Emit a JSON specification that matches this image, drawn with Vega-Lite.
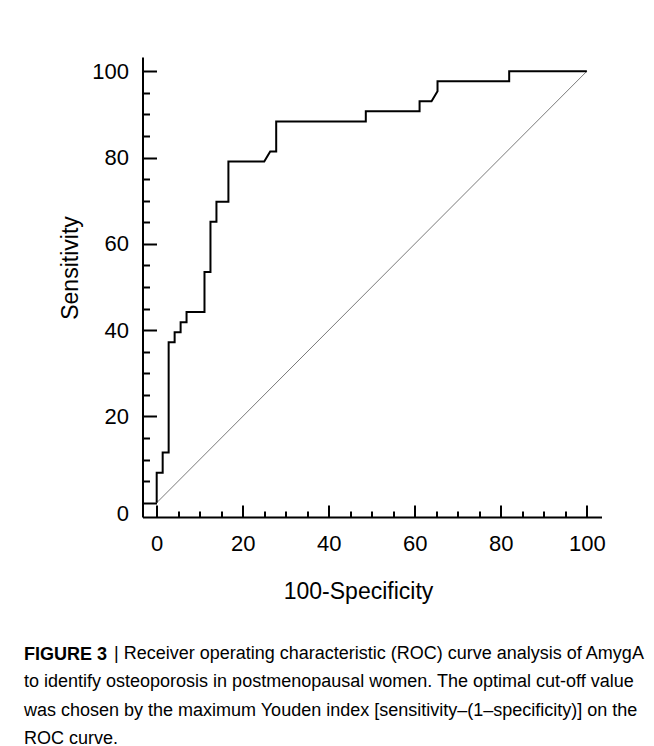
{
  "$schema": "https://vega.github.io/schema/vega-lite/v6.json",
  "width": 459,
  "height": 460,
  "autosize": {"type": "none"},
  "padding": {"left": 142.5, "top": 57, "right": 52.5, "bottom": 229},
  "background": "white",
  "config": {
    "view": {"stroke": null},
    "font": "Liberation Sans",
    "axis": {"grid": false, "labelFont": "Liberation Sans", "titleFont": "Liberation Sans", "labelColor": "black", "titleColor": "black", "tickColor": "black", "domainColor": "black"}
  },
  "title": {
    "text": "FIGURE 3",
    "subtitle": [
      "\u200b\u00a0\u00a0\u00a0\u00a0\u00a0\u00a0\u00a0\u00a0\u00a0\u00a0\u00a0\u00a0\u00a0\u00a0\u00a0\u00a0\u00a0\u00a0| Receiver operating characteristic (ROC) curve analysis of AmygA",
      "to identify osteoporosis in postmenopausal women. The optimal cut-off value",
      "was chosen by the maximum Youden index [sensitivity–(1–specificity)] on the",
      "ROC curve."
    ],
    "orient": "bottom",
    "anchor": "start",
    "frame": "group",
    "dx": -118.5,
    "offset": 43,
    "font": "Liberation Sans",
    "fontSize": 18,
    "fontWeight": "bold",
    "color": "black",
    "lineHeight": 29,
    "subtitleFont": "Liberation Sans",
    "subtitleFontSize": 18,
    "subtitleFontWeight": "normal",
    "subtitleColor": "black",
    "subtitleLineHeight": 28.3,
    "subtitlePadding": -19
  },
  "datasets": {
    "diag": [{"fpr": 0, "tpr": 0}, {"fpr": 100, "tpr": 100}],
    "roc": [
      {"i": 1, "fpr": 0, "tpr": 0},
      {"i": 2, "fpr": 0, "tpr": 6.98},
      {"i": 3, "fpr": 1.39, "tpr": 6.98},
      {"i": 4, "fpr": 1.39, "tpr": 11.63},
      {"i": 5, "fpr": 2.78, "tpr": 11.63},
      {"i": 6, "fpr": 2.78, "tpr": 37.21},
      {"i": 7, "fpr": 4.17, "tpr": 37.21},
      {"i": 8, "fpr": 4.17, "tpr": 39.53},
      {"i": 9, "fpr": 5.56, "tpr": 39.53},
      {"i": 10, "fpr": 5.56, "tpr": 41.86},
      {"i": 11, "fpr": 6.94, "tpr": 41.86},
      {"i": 12, "fpr": 6.94, "tpr": 44.19},
      {"i": 13, "fpr": 11.11, "tpr": 44.19},
      {"i": 14, "fpr": 11.11, "tpr": 53.49},
      {"i": 15, "fpr": 12.5, "tpr": 53.49},
      {"i": 16, "fpr": 12.5, "tpr": 65.12},
      {"i": 17, "fpr": 13.89, "tpr": 65.12},
      {"i": 18, "fpr": 13.89, "tpr": 69.77},
      {"i": 19, "fpr": 16.67, "tpr": 69.77},
      {"i": 20, "fpr": 16.67, "tpr": 79.07},
      {"i": 21, "fpr": 25.0, "tpr": 79.07},
      {"i": 22, "fpr": 26.39, "tpr": 81.4},
      {"i": 23, "fpr": 27.78, "tpr": 81.4},
      {"i": 24, "fpr": 27.78, "tpr": 88.37},
      {"i": 25, "fpr": 48.61, "tpr": 88.37},
      {"i": 26, "fpr": 48.61, "tpr": 90.7},
      {"i": 27, "fpr": 61.11, "tpr": 90.7},
      {"i": 28, "fpr": 61.11, "tpr": 93.02},
      {"i": 29, "fpr": 63.89, "tpr": 93.02},
      {"i": 30, "fpr": 65.28, "tpr": 95.35},
      {"i": 31, "fpr": 65.28, "tpr": 97.67},
      {"i": 32, "fpr": 81.94, "tpr": 97.67},
      {"i": 33, "fpr": 81.94, "tpr": 100},
      {"i": 34, "fpr": 100, "tpr": 100}
    ]
  },
  "layer": [
    {
      "data": {"name": "diag"},
      "mark": {"type": "line", "color": "#7a7a7a", "strokeWidth": 1},
      "encoding": {
        "x": {"field": "fpr", "type": "quantitative", "scale": {"domain": [-3.3, 103.4], "nice": false, "zero": false},
          "axis": {"orient": "bottom", "values": [5, 10, 15, 25, 30, 35, 45, 50, 55, 65, 70, 75, 85, 90, 95], "tickSize": -6, "tickWidth": 2, "labels": false, "domain": false, "title": null, "offset": 0}},
        "y": {"field": "tpr", "type": "quantitative", "scale": {"domain": [-3.3, 103.3], "nice": false, "zero": false},
          "axis": {"orient": "left", "values": [5, 10, 15, 25, 30, 35, 45, 50, 55, 65, 70, 75, 85, 90, 95], "tickSize": -7, "tickWidth": 2, "labels": false, "domain": false, "title": null, "offset": 0}}
      }
    },
    {
      "data": {"name": "roc"},
      "mark": {"type": "line", "color": "black", "strokeWidth": 2},
      "encoding": {
        "order": {"field": "i", "type": "quantitative"},
        "x": {"field": "fpr", "type": "quantitative",
          "axis": {"orient": "bottom", "values": [0, 20, 40, 60, 80, 100], "tickSize": -12, "tickWidth": 2, "domainWidth": 2, "labelFontSize": 22, "labelPadding": 28, "labelFlush": false, "labelOverlap": false,
            "title": "100-Specificity", "titleFontSize": 23, "titleFontWeight": "normal", "titleX": 215.5, "titleY": 81, "titleBaseline": "alphabetic", "titleAnchor": "middle", "titleAlign": "center", "offset": 0}},
        "y": {"field": "tpr", "type": "quantitative",
          "axis": {"orient": "left", "values": [0, 20, 40, 60, 80, 100], "tickSize": -14, "tickWidth": 2, "domainWidth": 2, "labelFontSize": 22, "labelPadding": 28, "labelFlush": false, "labelOverlap": false,
            "labelOffset": {"condition": {"test": "datum.value === 0", "value": 11}, "value": 0},
            "title": "Sensitivity", "titleFontSize": 23, "titleFontWeight": "normal", "titleX": -65.5, "titleY": 210.5, "titleBaseline": "alphabetic", "titleAnchor": "middle", "titleAlign": "center", "titleAngle": 270, "offset": 0}}
      }
    }
  ],
  "resolve": {"axis": {"x": "independent", "y": "independent"}}
}
